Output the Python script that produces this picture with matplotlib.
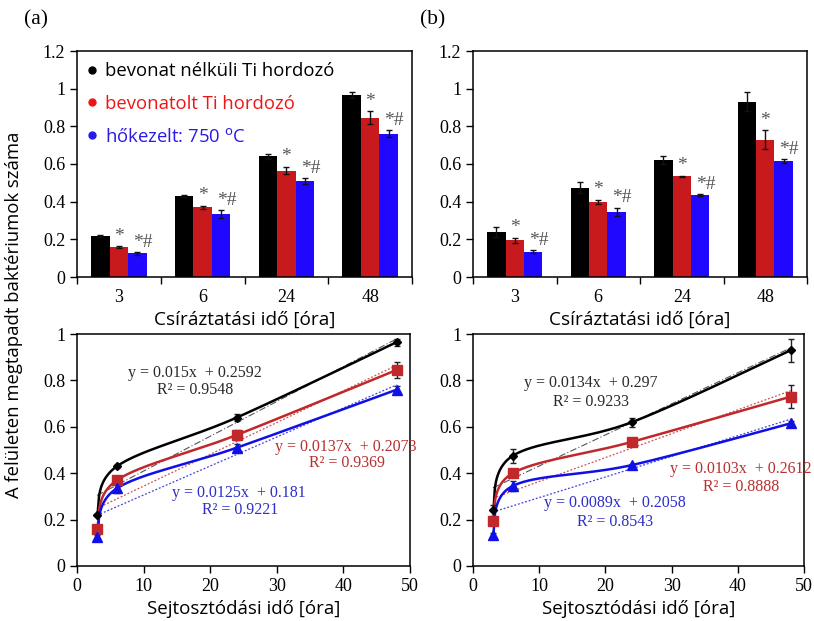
import numpy as np
import matplotlib
matplotlib.use("Agg")
import matplotlib.pyplot as plt
from matplotlib.lines import Line2D

# ---------------- data ----------------
categories = ["3", "6", "24", "48"]
hours = [3, 6, 24, 48]
series_names = ["bevonat nélküli Ti hordozó", "bevonatolt Ti hordozó", "hőkezelt: 750 $^{\\mathrm{o}}$C"]

a_black = [0.22, 0.43, 0.64, 0.965]
a_black_err = [0.005, 0.007, 0.015, 0.015]
a_red = [0.16, 0.37, 0.565, 0.845]
a_red_err = [0.005, 0.008, 0.02, 0.035]
a_blue = [0.125, 0.335, 0.51, 0.76]
a_blue_err = [0.008, 0.02, 0.015, 0.018]

b_black = [0.24, 0.475, 0.62, 0.93]
b_black_err = [0.025, 0.03, 0.02, 0.05]
b_red = [0.195, 0.40, 0.535, 0.73]
b_red_err = [0.013, 0.01, 0.003, 0.05]
b_blue = [0.135, 0.345, 0.435, 0.615]
b_blue_err = [0.008, 0.022, 0.006, 0.01]

# linear trendlines (slope, intercept, R2) as printed
a_trend = [(0.015, 0.2592, 0.9548), (0.0137, 0.2073, 0.9369), (0.0125, 0.181, 0.9221)]
b_trend = [(0.0134, 0.297, 0.9233), (0.0103, 0.2612, 0.8888), (0.0089, 0.2058, 0.8543)]

# ---------------- styles ----------------
bar_colors = ["#000000", "#c81a1c", "#2008ff"]
line_colors = ["#000000", "#c0282b", "#1010e6"]
legend_colors = ["#000000", "#f01515", "#2a1ae8"]
eq_colors = ["#2a2a2a", "#b83030", "#2e2ec8"]
trend_styles = [dict(color="#555555", ls=(0, (6, 2, 1, 2)), lw=0.8),
                dict(color="#d05050", ls=(0, (1.5, 1.5)), lw=0.9),
                dict(color="#4040e0", ls=(0, (1.5, 1.5)), lw=0.9)]
markers = [dict(marker="D", ms=4.5), dict(marker="s", ms=6.5), dict(marker="^", ms=6.5)]

SERIF = "Liberation Serif"
SANS = "Open Sans"

plt.rcParams["font.family"] = [SERIF, "DejaVu Serif"]
plt.rcParams["xtick.labelsize"] = 13
plt.rcParams["ytick.labelsize"] = 13

W, H = 814, 621
fig = plt.figure(figsize=(W / 100, H / 100), dpi=100)


def box(l, t, r, b):
    return [l / W, 1 - b / H, (r - l) / W, (b - t) / H]


def style_axes(ax):
    for s in ax.spines.values():
        s.set_linewidth(1.1)
    ax.tick_params(which="both", direction="out", width=1.0)
    ax.tick_params(which="major", length=5)


def excel_smooth(x, y, n=60):
    pts = np.column_stack([x, y]).astype(float)
    segs = []
    for i in range(len(pts) - 1):
        p0 = pts[i - 1] if i > 0 else pts[i]
        p1, p2 = pts[i], pts[i + 1]
        p3 = pts[i + 2] if i + 2 < len(pts) else pts[i + 1]
        c1 = p1 + (p2 - p0) / 6
        c2 = p2 - (p3 - p1) / 6
        t = np.linspace(0, 1, n)[:, None]
        segs.append((1 - t) ** 3 * p1 + 3 * (1 - t) ** 2 * t * c1 + 3 * (1 - t) * t ** 2 * c2 + t ** 3 * p2)
    return np.vstack(segs)


def bar_panel(ax, vals, errs, legend=False):
    x = np.arange(len(categories))
    w = 0.22
    for k, (v, e) in enumerate(zip(vals, errs)):
        ax.bar(x + (k - 1) * w, v, w, color=bar_colors[k], yerr=e,
               error_kw=dict(ecolor="#111111", elinewidth=1.0, capsize=2.5, capthick=1.0), zorder=2)
    for i in x:
        ax.annotate("*", (i, vals[1][i] + errs[1][i]), xytext=(0, 1), textcoords="offset points",
                    ha="center", va="bottom", fontsize=14, color="#555555")
        ax.annotate("*#", (i + w, vals[2][i] + errs[2][i]), xytext=(4, 1), textcoords="offset points",
                    ha="center", va="bottom", fontsize=14, color="#555555")
    ax.set_xlim(-0.5, len(categories) - 0.5)
    ax.set_ylim(0, 1.2)
    ax.set_yticks(np.arange(0, 1.21, 0.2))
    ax.set_yticklabels(["0", "0.2", "0.4", "0.6", "0.8", "1", "1.2"])
    ax.set_xticks(np.arange(len(categories) + 1) - 0.5)
    ax.set_xticklabels([])
    ax.set_xticks(x, minor=True)
    ax.set_xticklabels(categories, minor=True)
    style_axes(ax)
    ax.tick_params(axis="x", which="minor", length=0, pad=9)
    ax.set_xlabel("Csíráztatási idő [óra]", fontfamily=SANS, fontsize=13.7, labelpad=3)
    if legend:
        handles = [Line2D([], [], ls="none", marker="o", ms=5, color=legend_colors[k]) for k in range(3)]
        ax.legend(handles, series_names, loc="upper left", frameon=False,
                  prop=dict(family=SANS, size=13.3), handlelength=0.4, handletextpad=0.5,
                  labelspacing=0.8, borderaxespad=0.2, bbox_to_anchor=(0.0, 1.0),
                  labelcolor=legend_colors)


def line_panel(ax, vals, errs, trends, eq_pos):
    xs = np.array(hours, dtype=float)
    for k in range(3):
        sl, ic, r2 = trends[k]
        tx = np.array([xs[0], xs[-1]])
        ax.plot(tx, sl * tx + ic, zorder=1, **trend_styles[k])
    for k in range(3):
        cur = excel_smooth(xs, vals[k])
        ax.plot(cur[:, 0], cur[:, 1], color=line_colors[k], lw=1.8, zorder=2)
        ax.errorbar(xs, vals[k], yerr=errs[k], fmt="none", ecolor="#222222", elinewidth=1.0,
                    capsize=2.5, capthick=1.0, zorder=3)
        ax.plot(xs, vals[k], ls="none", color=line_colors[k], mec=line_colors[k], zorder=4, **markers[k])
    for k in range(3):
        sl, ic, r2 = trends[k]
        (ex, ey), (rx, ry) = eq_pos[k]
        ax.text(ex, ey, f"y = {sl:g}x  + {ic:g}", color=eq_colors[k],
                fontsize=11.5, ha="center", va="center", clip_on=False, zorder=5)
        ax.text(rx, ry, f"R² = {r2:.4f}", color=eq_colors[k],
                fontsize=11.5, ha="center", va="center", clip_on=False, zorder=5)
    ax.set_xlim(0, 50)
    ax.set_ylim(0, 1)
    ax.set_xticks(np.arange(0, 51, 10))
    ax.set_yticks(np.arange(0, 1.01, 0.2))
    ax.set_yticklabels(["0", "0.2", "0.4", "0.6", "0.8", "1"])
    style_axes(ax)
    ax.set_xlabel("Sejtosztódási idő [óra]", fontfamily=SANS, fontsize=13.5, labelpad=4)


ax1 = fig.add_axes(box(77, 51, 412, 277))
ax2 = fig.add_axes(box(473, 51, 807, 277))
ax3 = fig.add_axes(box(77, 334, 410, 566))
ax4 = fig.add_axes(box(473, 334, 804, 566))

bar_panel(ax1, [a_black, a_red, a_blue], [a_black_err, a_red_err, a_blue_err], legend=True)
bar_panel(ax2, [b_black, b_red, b_blue], [b_black_err, b_red_err, b_blue_err])

line_panel(ax3, [a_black, a_red, a_blue], [a_black_err, a_red_err, a_blue_err], a_trend,
           [((17.7, 0.832), (17.8, 0.759)), ((40.3, 0.513), (40.6, 0.444)), ((24.3, 0.315), (24.5, 0.241))])
line_panel(ax4, [b_black, b_red, b_blue], [b_black_err, b_red_err, b_blue_err], b_trend,
           [((17.8, 0.789), (17.9, 0.707)), ((40.5, 0.418), (40.5, 0.34)), ((21.5, 0.27), (21.5, 0.19))])

ax4.set_zorder(0)
ax3.set_zorder(1)

fig.text(24 / W, 1 - 20 / H, "(a)", fontsize=15.5, ha="left", va="center")
fig.text(420 / W, 1 - 20 / H, "(b)", fontsize=15.5, ha="left", va="center")
fig.text(14 / W, 1 - 315 / H, "A felületen megtapadt baktériumok száma", fontfamily=SANS,
         fontsize=13.3, rotation=90, ha="center", va="center")

fig.savefig("out.png", dpi=100)
